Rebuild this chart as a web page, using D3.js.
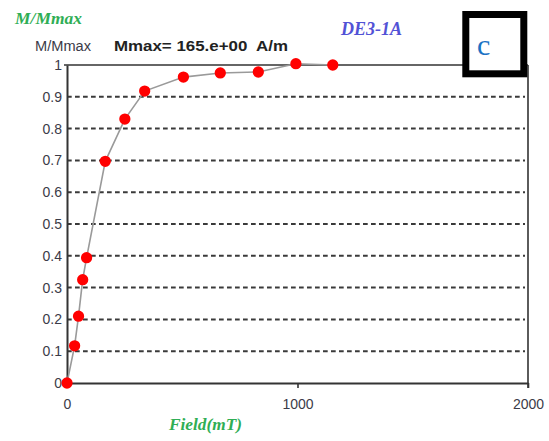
<!DOCTYPE html>
<html>
<head>
<meta charset="utf-8">
<script src="https://cdn.jsdelivr.net/npm/d3@7"></script>
<style>
  html, body { margin: 0; padding: 0; background: #fff; }
  svg { display: block; }
</style>
</head>
<body>
<svg id="chart" width="549" height="441"></svg>
<script>
// IRM acquisition curve, sample DE3-1A
const fieldMT = [0, 33, 50, 68, 85, 166, 251, 337, 505, 665, 830, 993, 1153];
const mNorm   = [0, 0.117, 0.21, 0.325, 0.394, 0.697, 0.83, 0.918, 0.962, 0.975, 0.978, 1.004, 1.0];
const yTicks  = [0, 0.1, 0.2, 0.3, 0.4, 0.5, 0.6, 0.7, 0.8, 0.9, 1];
const xTicks  = [0, 1000, 2000];
const gridLevels = [0.1, 0.2, 0.3, 0.4, 0.5, 0.6, 0.7, 0.8, 0.9];

const svg = d3.select("#chart");
const x = d3.scaleLinear().domain([0, 2000]).range([67, 528]);
const y = d3.scaleLinear().domain([0, 1]).range([383, 65]);

const axisCol = "#333";
const sans = "Arial, 'Liberation Sans', sans-serif";
const serif = "'Times New Roman', 'Liberation Serif', serif";

// dashed horizontal grid
svg.append("g").selectAll("line").data(gridLevels).join("line")
  .attr("x1", x(0)).attr("x2", 525)
  .attr("y1", d => y(d)).attr("y2", d => y(d))
  .attr("stroke", "#3a3a3a").attr("stroke-width", 2)
  .attr("stroke-dasharray", "4.7,3.3");

// frame
svg.append("line").attr("x1", x(0) - 3).attr("x2", x(2000)).attr("y1", y(1)).attr("y2", y(1))
  .attr("stroke", axisCol).attr("stroke-width", 1.6);
svg.append("line").attr("x1", x(2000)).attr("x2", x(2000)).attr("y1", y(1)).attr("y2", y(0) + 5)
  .attr("stroke", axisCol).attr("stroke-width", 1.6);

// y axis
const yAxis = d3.axisLeft(y).tickValues(yTicks).tickSize(0).tickPadding(5)
  .tickFormat(d => d3.format("~g")(d));
const gy = svg.append("g").attr("transform", `translate(${x(0)},0)`).call(yAxis);
gy.select(".domain").attr("stroke", axisCol).attr("stroke-width", 2);
gy.selectAll("text").attr("font-family", sans).attr("font-size", 14).attr("fill", "#3b3b48");

// x axis
const xAxis = d3.axisBottom(x).tickValues(xTicks).tickSizeInner(5).tickSizeOuter(0).tickPadding(11)
  .tickFormat(d3.format("d"));
const gx = svg.append("g").attr("transform", `translate(0,${y(0)})`).call(xAxis);
gx.select(".domain").attr("stroke", axisCol).attr("stroke-width", 2);
gx.selectAll(".tick line").attr("stroke", axisCol).attr("stroke-width", 1.6)
  .attr("opacity", (d, i) => i === 0 ? 0 : 1);
gx.selectAll("text").attr("font-family", sans).attr("font-size", 14).attr("fill", "#3b3b48");

// curve
const line = d3.line().x((d, i) => x(fieldMT[i])).y(d => y(d));
svg.append("path").datum(mNorm).attr("d", line)
  .attr("fill", "none").attr("stroke", "#9a9a9a").attr("stroke-width", 1.6);

// markers
svg.append("g").selectAll("path").data(mNorm).join("path")
  .attr("d", d3.symbol().type(d3.symbolCircle).size(100))
  .attr("transform", (d, i) => `translate(${x(fieldMT[i])},${y(d)})`)
  .attr("fill", "#ff0000");

// titles
svg.append("text").attr("x", 15).attr("y", 24).text("M/Mmax")
  .attr("font-family", serif).attr("font-style", "italic").attr("font-weight", "bold")
  .attr("font-size", 17).attr("fill", "#2fae55")
  .attr("textLength", 67).attr("lengthAdjust", "spacingAndGlyphs");
svg.append("text").attr("x", 35).attr("y", 51).text("M/Mmax")
  .attr("font-family", sans).attr("font-size", 14).attr("fill", "#3b3b48")
  .attr("textLength", 56).attr("lengthAdjust", "spacingAndGlyphs");
svg.append("text").attr("x", 114).attr("y", 51).text("Mmax= 165.e+00  A/m")
  .attr("font-family", sans).attr("font-weight", "bold").attr("font-size", 15)
  .attr("fill", "#222").attr("xml:space", "preserve").style("white-space", "pre")
  .attr("textLength", 174).attr("lengthAdjust", "spacingAndGlyphs");
svg.append("text").attr("x", 341).attr("y", 35).text("DE3-1A")
  .attr("font-family", serif).attr("font-style", "italic").attr("font-weight", "bold")
  .attr("font-size", 18).attr("fill", "#5252d6")
  .attr("textLength", 61).attr("lengthAdjust", "spacingAndGlyphs");
svg.append("text").attr("x", 169).attr("y", 430).text("Field(mT)")
  .attr("font-family", serif).attr("font-style", "italic").attr("font-weight", "bold")
  .attr("font-size", 17).attr("fill", "#2fae55")
  .attr("textLength", 73).attr("lengthAdjust", "spacingAndGlyphs");

// panel letter box
svg.append("rect").attr("x", 465.8).attr("y", 14.5).attr("width", 58).attr("height", 59.3)
  .attr("fill", "#fff").attr("stroke", "#000").attr("stroke-width", 7);
svg.append("text").attr("x", 477).attr("y", 54.5).text("c")
  .attr("font-family", serif).attr("font-size", 30).attr("fill", "#1b72c4");
</script>
</body>
</html>
